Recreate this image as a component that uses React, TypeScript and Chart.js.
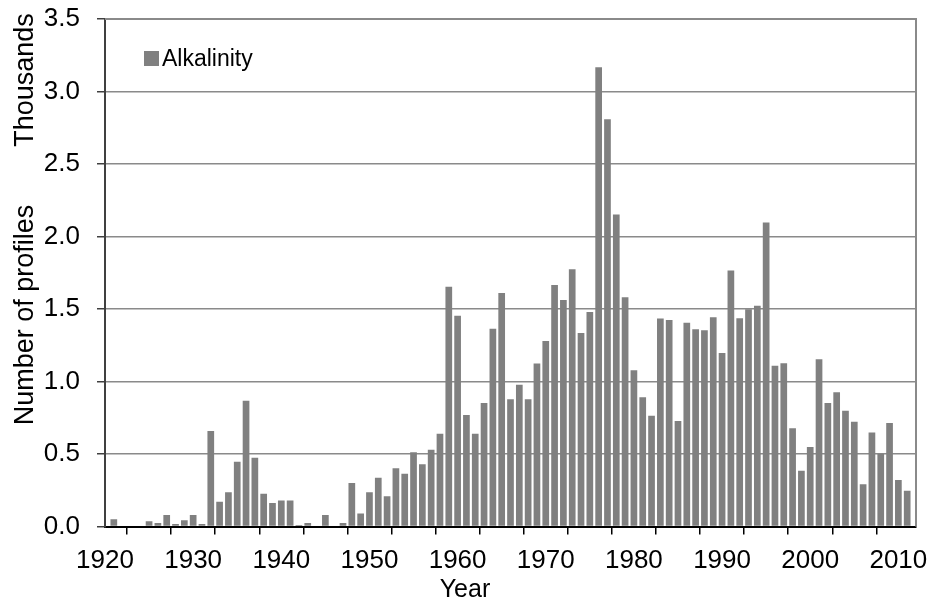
import { useEffect, useRef } from 'react';
import { Chart, registerables } from 'chart.js';

Chart.register(...registerables);

// Categories: years
const years = [
  1920, 1921, 1922, 1923, 1924, 1925, 1926, 1927, 1928, 1929,
  1930, 1931, 1932, 1933, 1934, 1935, 1936, 1937, 1938, 1939,
  1940, 1941, 1942, 1943, 1944, 1945, 1946, 1947, 1948, 1949,
  1950, 1951, 1952, 1953, 1954, 1955, 1956, 1957, 1958, 1959,
  1960, 1961, 1962, 1963, 1964, 1965, 1966, 1967, 1968, 1969,
  1970, 1971, 1972, 1973, 1974, 1975, 1976, 1977, 1978, 1979,
  1980, 1981, 1982, 1983, 1984, 1985, 1986, 1987, 1988, 1989,
  1990, 1991, 1992, 1993, 1994, 1995, 1996, 1997, 1998, 1999,
  2000, 2001, 2002, 2003, 2004, 2005, 2006, 2007, 2008, 2009,
  2010, 2011,
];

// Number of alkalinity profiles (thousands)
const alkalinity = [
  0, 0.05, 0.005, 0.005, 0.005, 0.036, 0.024, 0.079, 0.017, 0.043,
  0.079, 0.017, 0.659, 0.171, 0.236, 0.447, 0.868, 0.475, 0.226, 0.162,
  0.18, 0.18, 0.01, 0.024, 0.005, 0.079, 0.005, 0.024, 0.3, 0.09,
  0.236, 0.337, 0.208, 0.401, 0.364, 0.512, 0.429, 0.53, 0.64, 1.654,
  1.454, 0.769, 0.64, 0.852, 1.364, 1.61, 0.877, 0.978, 0.877, 1.125,
  1.28, 1.665, 1.562, 1.774, 1.334, 1.479, 3.167, 2.808, 2.152, 1.581,
  1.077, 0.892, 0.763, 1.434, 1.424, 0.728, 1.405, 1.36, 1.353, 1.443,
  1.197, 1.766, 1.437, 1.499, 1.522, 2.097, 1.108, 1.126, 0.678, 0.384,
  0.549, 1.154, 0.851, 0.926, 0.798, 0.722, 0.292, 0.648, 0.501, 0.713,
  0.32, 0.246,
];

const xMin = 1920;
const xMax = 2012;
const xTickStep = 5;
const xLabelStep = 10;
const yMax = 3.5;
const yTickStep = 0.5;

const seriesName = 'Alkalinity';
const xTitle = 'Year';
const yTitle = 'Number of profiles';
const yUnitTitle = 'Thousands';

const FONT = '"Liberation Sans", Arial, Helvetica, sans-serif';
const BAR_COLOR = '#808080';

const zeroPad = (s: any) => {
  s.paddingTop = 0;
  s.paddingBottom = 0;
  s.paddingLeft = 0;
  s.paddingRight = 0;
};

const decorPlugin = {
  id: 'decor',
  afterDraw(chart: any) {
    const { ctx, chartArea: a } = chart;
    ctx.save();
    // top and right plot border
    ctx.strokeStyle = '#8a8a8a';
    ctx.lineWidth = 2;
    ctx.beginPath();
    ctx.moveTo(a.left, a.top);
    ctx.lineTo(a.right, a.top);
    ctx.lineTo(a.right, a.bottom);
    ctx.stroke();

    ctx.fillStyle = '#000';
    // Year title
    ctx.font = `25px ${FONT}`;
    ctx.textAlign = 'center';
    ctx.textBaseline = 'alphabetic';
    ctx.fillText(xTitle, a.left + 360, a.bottom + 70);

    // Rotated y titles
    const drawRot = (text: string, x: number, y: number) => {
      ctx.save();
      ctx.translate(x, y);
      ctx.rotate(-Math.PI / 2);
      ctx.textAlign = 'center';
      ctx.textBaseline = 'alphabetic';
      ctx.fillText(text, 0, 0);
      ctx.restore();
    };
    ctx.font = `27px ${FONT}`;
    drawRot(yTitle, a.left - 72, a.top + 296);
    drawRot(yUnitTitle, a.left - 72, a.top + 61);

    // Legend
    ctx.fillStyle = BAR_COLOR;
    ctx.fillRect(a.left + 39, a.top + 32, 15, 15);
    ctx.fillStyle = '#000';
    ctx.font = `23px ${FONT}`;
    ctx.textAlign = 'left';
    ctx.fillText(seriesName, a.left + 57, a.top + 47);
    ctx.restore();
  },
};

export default function App() {
  const ref = useRef<HTMLCanvasElement | null>(null);

  useEffect(() => {
    if (!ref.current) return;
    const chart = new Chart(ref.current, {
      type: 'bar',
      data: {
        datasets: [
          {
            label: seriesName,
            data: years.map((y, i) => ({ x: y, y: alkalinity[i] })),
            backgroundColor: BAR_COLOR,
            borderWidth: 0,
            barPercentage: 1,
            categoryPercentage: 0.76,
          },
        ],
      },
      options: {
        responsive: false,
        animation: false,
        layout: { padding: { top: 19, right: 16, left: 0, bottom: 0 } },
        plugins: {
          legend: { display: false },
          tooltip: { enabled: false },
        },
        scales: {
          x: {
            type: 'linear',
            min: xMin,
            max: xMax,
            offset: false,
            grid: {
              drawOnChartArea: false,
              drawTicks: true,
              tickLength: 8,
              tickColor: '#000',
              lineWidth: 1.5,
            },
            border: { display: true, color: '#000', width: 2 },
            ticks: {
              stepSize: xTickStep,
              includeBounds: false,
              autoSkip: false,
              maxRotation: 0,
              padding: 11,
              color: '#000',
              font: { family: FONT, size: 26 },
              callback: (v: any) => (Number(v) % xLabelStep === 0 ? String(v) : ''),
            },
            afterFit: (s: any) => {
              s.height = 74.5;
              zeroPad(s);
            },
          },
          y: {
            min: 0,
            max: yMax,
            grid: {
              color: '#8a8a8a',
              lineWidth: 1.5,
              drawTicks: true,
              tickLength: 8,
              tickColor: '#404040',
            },
            border: { display: true, color: '#404040', width: 2 },
            ticks: {
              stepSize: yTickStep,
              padding: 17,
              color: '#000',
              font: { family: FONT, size: 26 },
              callback: (v: any) => Number(v).toFixed(1),
            },
            afterFit: (s: any) => {
              s.width = 105;
              zeroPad(s);
            },
          },
        },
      },
      plugins: [decorPlugin],
    });
    return () => chart.destroy();
  }, []);

  return (
    <div style={{ position: 'fixed', left: 0, top: 0, width: 932, height: 601 }}>
      <canvas ref={ref} width={932} height={601} style={{ display: 'block' }} />
    </div>
  );
}
